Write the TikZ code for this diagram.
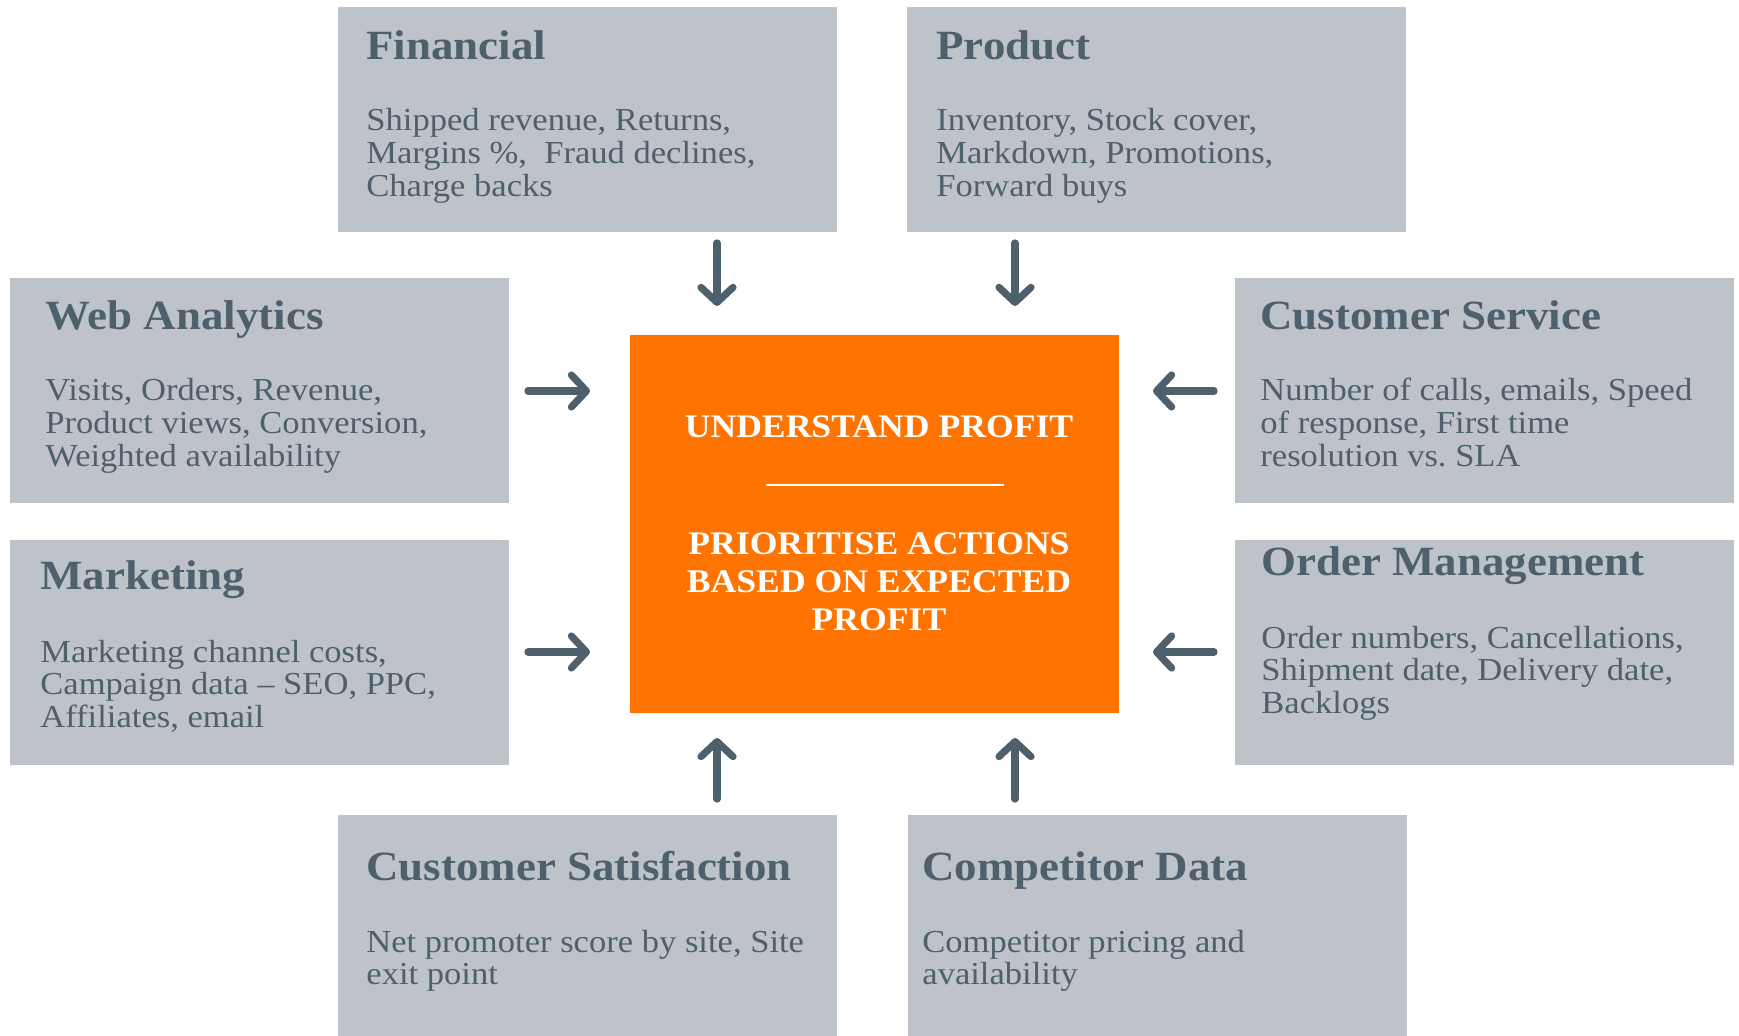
\documentclass[tikz,border=0pt]{standalone}
\usepackage{fontspec}
\setmainfont{Liberation Serif}[FakeStretch=1.08]
\usetikzlibrary{arrows.meta}
\definecolor{boxgray}{HTML}{BDC3C9}
\definecolor{slate}{HTML}{4E606C}
\definecolor{orng}{HTML}{FF7300}
\newcommand{\lines}[1]{\begin{tabular}[t]{@{}l@{}}#1\end{tabular}}
\newcommand{\clines}[1]{\begin{tabular}[t]{@{}c@{}}#1\end{tabular}}
\tikzset{
  box/.style={fill=boxgray, draw=none, inner sep=0pt, anchor=north west, minimum width=249.5pt, minimum height=112.5pt},
  ttl/.style={anchor=base west, inner sep=0pt, text=slate, font=\fontsize{20.8}{24}\selectfont\bfseries},
  bdy/.style={anchor=base west, inner sep=0pt, text=slate, font=\fontsize{16}{16.35}\selectfont},
  ctr/.style={inner sep=0pt, text=white, font=\fontsize{16.5}{19}\selectfont\bfseries},
  arr/.style={draw=slate, line width=3.6pt, line cap=round, -{Straight Barb[length=7.5pt, width=16pt, line cap=round, line join=round]}}
}
\begin{document}
\begin{tikzpicture}[x=0.5pt, y=-0.5pt]
\useasboundingbox (0,0) rectangle (1739,1036);
% boxes
\node (fin)  [box] at (338,7) {};
\node (prod) [box] at (907,7) {};
\node (web)  [box] at (10,278) {};
\node (cs)   [box] at (1235,278) {};
\node (mkt)  [box] at (10,540) {};
\node (om)   [box] at (1235,540) {};
\node (csat) [box, minimum height=110.5pt] at (338,815) {};
\node (comp) [box, minimum height=110.5pt] at (908,815) {};
\node (ctr)  [fill=orng, inner sep=0pt, anchor=north west, minimum width=244.5pt, minimum height=189pt] at (630,335) {};
% titles and bodies
\node (finT) [ttl] at (366,60) {Financial};
\node (finB) [bdy] at (366,131) {\lines{Shipped revenue, Returns,\\Margins \%,~ Fraud declines,\\Charge backs}};
\node (prodT) [ttl] at (936,60) {Product};
\node (prodB) [bdy] at (936,131) {\lines{Inventory, Stock cover,\\Markdown, Promotions,\\Forward buys}};
\node (webT) [ttl] at (45,330) {Web Analytics};
\node (webB) [bdy] at (45,401) {\lines{Visits, Orders, Revenue,\\Product views, Conversion,\\Weighted availability}};
\node (csT) [ttl] at (1260,330) {Customer Service};
\node (csB) [bdy] at (1260,401) {\lines{Number of calls, emails, Speed\\of response, First time\\resolution vs.\ SLA}};
\node (mktT) [ttl] at (40,590) {Marketing};
\node (mktB) [bdy] at (40,662) {\lines{Marketing channel costs,\\Campaign data -- SEO, PPC,\\Affiliates, email}};
\node (omT) [ttl] at (1261,576) {Order Management};
\node (omB) [bdy] at (1261,648) {\lines{Order numbers, Cancellations,\\Shipment date, Delivery date,\\Backlogs}};
\node (csatT) [ttl] at (366,880) {Customer Satisfaction};
\node (csatB) [bdy] at (366,952) {\lines{Net promoter score by site, Site\\exit point}};
\node (compT) [ttl] at (922,880) {Competitor Data};
\node (compB) [bdy] at (922,952) {\lines{Competitor pricing and\\availability}};
% centre text
\node (u1) [ctr, anchor=base] at (879,438) {UNDERSTAND PROFIT};
\coordinate (l1) at (766,485);
\coordinate (l2) at (1004,485);
\draw[white, line width=1pt] (l1) -- (l2);
\node (u2) [ctr, anchor=base] at (879,555) {\clines{PRIORITISE ACTIONS\\BASED ON EXPECTED\\PROFIT}};
% arrows
\coordinate (d1s) at (717,243); \coordinate (d1e) at (717,306);
\coordinate (d2s) at (1015,243); \coordinate (d2e) at (1015,306);
\coordinate (r1s) at (528,391); \coordinate (r1e) at (590,391);
\coordinate (r2s) at (528,652); \coordinate (r2e) at (590,652);
\coordinate (q1s) at (1214,391); \coordinate (q1e) at (1153,391);
\coordinate (q2s) at (1214,652); \coordinate (q2e) at (1153,652);
\coordinate (p1s) at (717,799); \coordinate (p1e) at (717,738);
\coordinate (p2s) at (1015,799); \coordinate (p2e) at (1015,738);
\draw[arr] (d1s) -- (d1e);
\draw[arr] (d2s) -- (d2e);
\draw[arr] (r1s) -- (r1e);
\draw[arr] (r2s) -- (r2e);
\draw[arr] (q1s) -- (q1e);
\draw[arr] (q2s) -- (q2e);
\draw[arr] (p1s) -- (p1e);
\draw[arr] (p2s) -- (p2e);
\end{tikzpicture}
\end{document}
